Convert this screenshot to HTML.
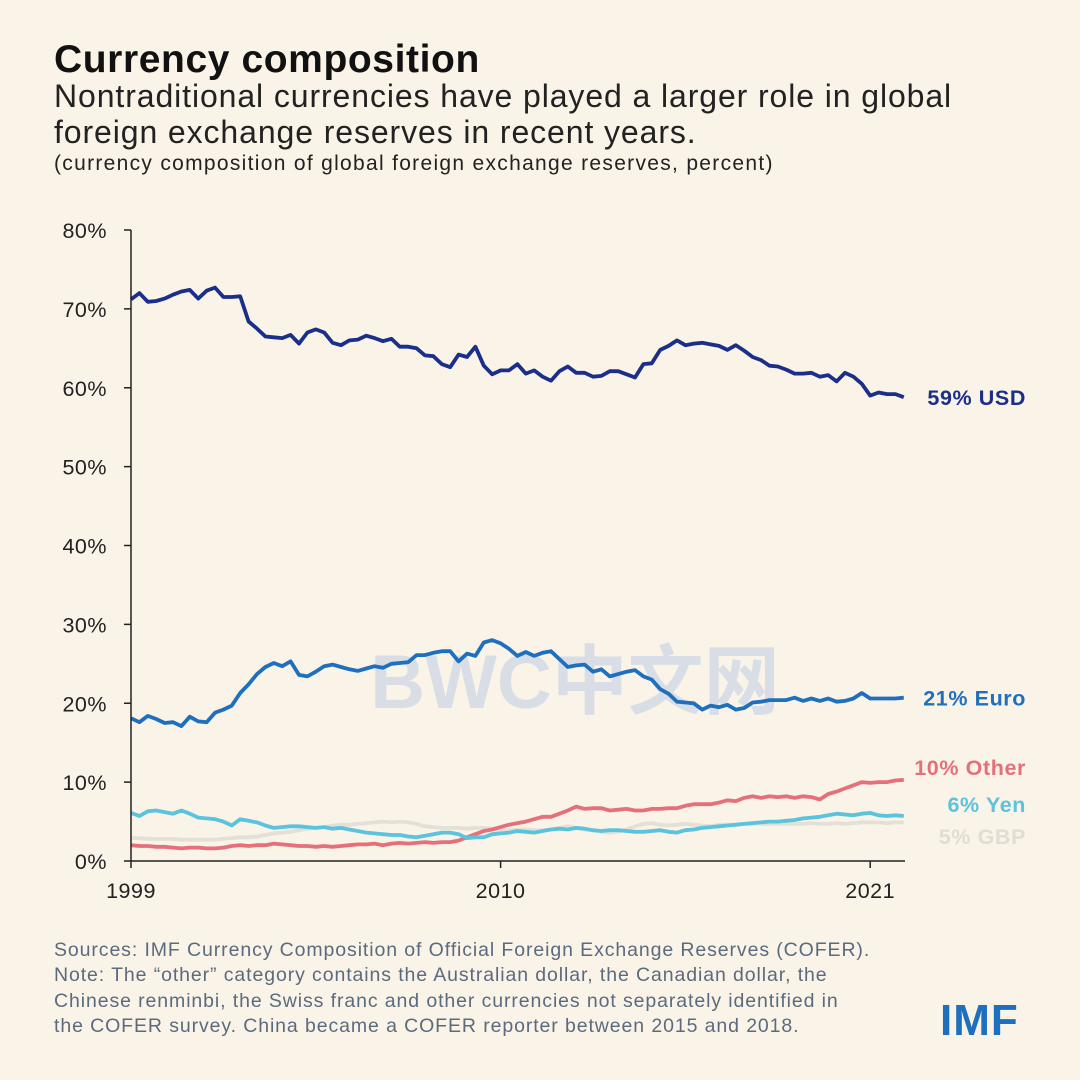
<!DOCTYPE html>
<html><head><meta charset="utf-8"><style>
body{margin:0;width:1080px;height:1080px;background:#faf3e8;font-family:"Liberation Sans","Noto Sans CJK SC",sans-serif;overflow:hidden;position:relative}
.t{position:absolute;left:54px;white-space:nowrap}
</style></head><body>
<div class="t" style="top:38px;font-size:39px;font-weight:bold;color:#111;letter-spacing:0.6px">Currency composition</div>
<div class="t" style="top:78px;font-size:32px;line-height:36px;color:#222;letter-spacing:0.9px">Nontraditional currencies have played a larger role in global<br>foreign exchange reserves in recent years.</div>
<div class="t" style="top:152px;font-size:21px;color:#222;letter-spacing:1.3px">(currency composition of global foreign exchange reserves, percent)</div>
<svg id="chart" width="1080" height="1080" style="position:absolute;left:0;top:0"></svg>
<div class="t" style="top:938px;font-size:19.5px;line-height:25.3px;color:#5b6b7e;letter-spacing:0.9px">Sources: IMF Currency Composition of Official Foreign Exchange Reserves (COFER).<br>Note: The “other” category contains the Australian dollar, the Canadian dollar, the<br>Chinese renminbi, the Swiss franc and other currencies not separately identified in<br>the COFER survey. China became a COFER reporter between 2015 and 2018.</div>
<div style="position:absolute;left:940px;top:996px;font-size:44px;font-weight:bold;color:#1f6fbf;letter-spacing:1px">IMF</div>
<script>
const yTicks=[0,10,20,30,40,50,60,70,80];
const xTickYears=[1999,2010,2021];
const usd=[71.2,72.0,70.9,71.0,71.3,71.8,72.2,72.4,71.3,72.3,72.7,71.5,71.5,71.6,68.4,67.5,66.5,66.4,66.3,66.7,65.6,67.0,67.4,67.0,65.7,65.4,66.0,66.1,66.6,66.3,65.9,66.2,65.2,65.2,65.0,64.1,64.0,63.0,62.6,64.2,63.9,65.2,62.8,61.7,62.2,62.2,63.0,61.8,62.2,61.4,60.9,62.1,62.7,61.9,61.9,61.4,61.5,62.1,62.1,61.7,61.3,63.0,63.1,64.8,65.3,66.0,65.4,65.6,65.7,65.5,65.3,64.8,65.4,64.7,63.9,63.5,62.8,62.7,62.3,61.8,61.8,61.9,61.4,61.6,60.8,61.9,61.4,60.5,59.0,59.4,59.2,59.2,58.8];
const euro=[18.1,17.6,18.4,18.0,17.5,17.6,17.1,18.3,17.7,17.6,18.8,19.2,19.7,21.3,22.4,23.7,24.6,25.1,24.7,25.3,23.6,23.4,24.0,24.7,24.9,24.6,24.3,24.1,24.4,24.7,24.5,25.0,25.1,25.2,26.1,26.1,26.4,26.6,26.6,25.3,26.3,26.0,27.7,28.0,27.6,26.9,26.0,26.5,26.0,26.4,26.6,25.6,24.6,24.8,24.9,24.0,24.3,23.4,23.7,24.0,24.2,23.4,23.0,21.8,21.2,20.2,20.1,20.0,19.2,19.7,19.5,19.8,19.2,19.4,20.1,20.2,20.4,20.4,20.4,20.7,20.3,20.6,20.3,20.6,20.2,20.3,20.6,21.3,20.6,20.6,20.6,20.6,20.7];
const other=[2.0,1.9,1.9,1.8,1.8,1.7,1.6,1.7,1.7,1.6,1.6,1.7,1.9,2.0,1.9,2.0,2.0,2.2,2.1,2.0,1.9,1.9,1.8,1.9,1.8,1.9,2.0,2.1,2.1,2.2,2.0,2.2,2.3,2.2,2.3,2.4,2.3,2.4,2.4,2.6,3.0,3.4,3.8,4.0,4.3,4.6,4.8,5.0,5.3,5.6,5.6,6.0,6.4,6.9,6.6,6.7,6.7,6.4,6.5,6.6,6.4,6.4,6.6,6.6,6.7,6.7,7.0,7.2,7.2,7.2,7.4,7.7,7.6,8.0,8.2,8.0,8.2,8.1,8.2,8.0,8.2,8.1,7.8,8.5,8.8,9.2,9.6,10.0,9.9,10.0,10.0,10.2,10.3];
const yen=[6.1,5.7,6.3,6.4,6.2,6.0,6.4,6.0,5.5,5.4,5.3,5.0,4.5,5.3,5.1,4.9,4.5,4.2,4.3,4.4,4.4,4.3,4.2,4.3,4.1,4.2,4.0,3.8,3.6,3.5,3.4,3.3,3.3,3.1,3.0,3.2,3.4,3.6,3.6,3.4,2.9,3.0,3.0,3.4,3.5,3.6,3.8,3.7,3.6,3.8,4.0,4.1,4.0,4.2,4.1,3.9,3.8,3.9,3.9,3.8,3.7,3.7,3.8,3.9,3.7,3.6,3.9,4.0,4.2,4.3,4.4,4.5,4.6,4.7,4.8,4.9,5.0,5.0,5.1,5.2,5.4,5.5,5.6,5.8,6.0,5.9,5.8,6.0,6.1,5.8,5.7,5.8,5.7];
const gbp=[2.9,2.9,2.8,2.8,2.8,2.8,2.7,2.7,2.7,2.7,2.7,2.8,2.9,3.0,3.0,3.1,3.3,3.5,3.6,3.7,3.9,4.1,4.2,4.3,4.5,4.6,4.6,4.7,4.8,4.9,5.0,4.9,5.0,4.9,4.7,4.4,4.3,4.2,4.2,4.2,4.1,4.2,4.2,4.1,3.9,3.9,4.0,4.0,3.9,3.9,4.0,4.2,4.4,4.2,4.0,3.9,3.7,3.6,3.7,4.0,4.4,4.7,4.8,4.6,4.5,4.6,4.7,4.6,4.5,4.4,4.6,4.6,4.6,4.7,4.7,4.7,4.7,4.7,4.7,4.7,4.7,4.8,4.7,4.7,4.8,4.7,4.8,4.9,4.9,4.9,4.8,4.9,4.9];
const labels=[["59% USD","#1b2f8a",58.8],["21% Euro","#1f6fbf",20.7],["10% Other","#e5707a",11.9],["6% Yen","#5bc3dc",7.2],["5% GBP","#e0ddd5",3.2]];
const NS="http://www.w3.org/2000/svg";
const svg=document.getElementById('chart');
const x0=131,xw=33.6,y0=861,yh=7.8875;
const X=yr=>x0+(yr-1999)*xw;
const Y=v=>y0-v*yh;
const Xq=i=>X(1999+i/4);
function mk(t,a){const e=document.createElementNS(NS,t);for(const k in a)e.setAttribute(k,a[k]);svg.appendChild(e);return e;}
yTicks.forEach(v=>{
  const l=mk('line',{x1:124,x2:131,y1:Y(v),y2:Y(v),stroke:'#222','stroke-width':1.5});
  
  
  const t=mk('text',{x:107,y:Y(v)+8,'text-anchor':'end','font-size':21.5,fill:'#222','font-family':'Liberation Sans, sans-serif','letter-spacing':0.5});
  t.textContent=v+'%';
  
  
});
xTickYears.forEach(yr=>{
  const l=mk('line',{x1:X(yr),x2:X(yr),y1:861,y2:868,stroke:'#222','stroke-width':1.5});
  
  
  const t=mk('text',{x:X(yr),y:898,'text-anchor':'middle','font-size':21.5,fill:'#222','font-family':'Liberation Sans, sans-serif','letter-spacing':0.5});
  t.textContent=yr;
  
  
});
const wm=mk('text',{x:575,y:708,'text-anchor':'middle','font-size':76,'font-weight':'bold',fill:'rgba(120,160,225,0.25)','font-family':'Liberation Sans, Noto Sans CJK SC, sans-serif'});
wm.textContent='BWC中文网';


const series=[[gbp,'#e3e0d8','gbp-line'],[other,'#e5707a','other-line'],[yen,'#5bc3dc','yen-line'],[euro,'#1f6fbf','euro-line'],[usd,'#1b2f8a','usd-line']];
series.forEach(([d,c,n])=>{
  const p=mk('polyline',{points:d.map((v,i)=>Xq(i).toFixed(1)+','+Y(v).toFixed(1)).join(' '),fill:'none',stroke:c,'stroke-width':3.8,'stroke-linejoin':'round'});
  
  
});
const ax=mk('line',{x1:131,x2:131,y1:230,y2:861,stroke:'#222','stroke-width':1.5});


const bx=mk('line',{x1:131,x2:905,y1:861,y2:861,stroke:'#222','stroke-width':1.5});


labels.forEach(([s,c,v])=>{
  const t=mk('text',{x:1026,y:Y(v)+8,'text-anchor':'end','font-size':21.5,'font-weight':'bold',fill:c,'font-family':'Liberation Sans, sans-serif','letter-spacing':0.6});
  t.textContent=s;
  
  
});
</script>
</body></html>
